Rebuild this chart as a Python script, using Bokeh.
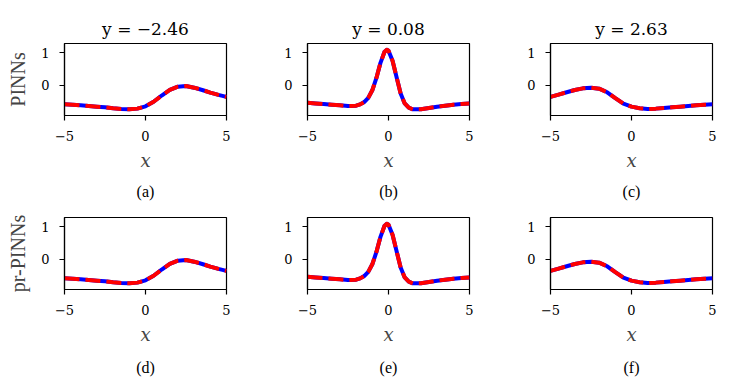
from bokeh.plotting import figure
from bokeh.layouts import column, row
from bokeh.models import Range1d, FixedTicker, Title
from bokeh.embed import file_html
from bokeh.resources import INLINE

# ---- data ----
titles = ["y = −2.46", "y = 0.08", "y = 2.63"]
row_labels = ["PINNs", "pr-PINNs"]
captions = [["(a)", "(b)", "(c)"], ["(d)", "(e)", "(f)"]]

x_a = [-5, -4.5, -4, -3.5, -3, -2.5, -2, -1.5, -1, -0.5, 0, 0.5, 1, 1.5, 2, 2.5, 3, 3.5, 4, 4.5, 5]
u_a = [-0.58, -0.59, -0.61, -0.63, -0.65, -0.67, -0.70, -0.72, -0.73, -0.71, -0.64, -0.50, -0.31,
       -0.14, -0.04, -0.02, -0.07, -0.14, -0.22, -0.29, -0.35]

x_b = [-5, -4.5, -4, -3.5, -3, -2.5, -2, -1.75, -1.5, -1.25, -1, -0.75, -0.5, -0.25, -0.1, 0,
       0.25, 0.5, 0.75, 1, 1.25, 1.5, 2, 2.5, 3, 3.5, 4, 4.5, 5]
u_b = [-0.53, -0.55, -0.57, -0.59, -0.61, -0.63, -0.62, -0.58, -0.51, -0.38, -0.15, 0.22, 0.68,
       1.02, 1.09, 1.06, 0.75, 0.25, -0.25, -0.55, -0.68, -0.73, -0.73, -0.69, -0.65, -0.62,
       -0.59, -0.57, -0.55]

x_c = [-5, -4.5, -4, -3.5, -3, -2.5, -2, -1.5, -1, -0.5, 0, 0.5, 1, 1.5, 2, 2.5, 3, 3.5, 4, 4.5, 5]
u_c = [-0.35, -0.28, -0.21, -0.14, -0.09, -0.07, -0.10, -0.21, -0.39, -0.56, -0.65, -0.70, -0.72,
       -0.71, -0.69, -0.67, -0.65, -0.63, -0.61, -0.59, -0.58]

xs = [x_a, x_b, x_c]
exact = [u_a, u_b, u_c]
pinn_pred = [u_a, u_b, u_c]
prpinn_pred = [u_a, u_b, u_c]
preds = [pinn_pred, prpinn_pred]

x_ticks = [-5, 0, 5]
x_tick_labels = {-5: "−5", 0: "0", 5: "5"}
y_ticks = [0, 1]

MATH = "DejaVu Serif"
TEXT = "Liberation Serif"


def make_panel(r, c):
    top = 43 if r == 0 else 10
    bottom = 87 if r == 0 else 97
    p = figure(frame_width=162, frame_height=72,
               x_range=Range1d(-5, 5), y_range=Range1d(-0.92, 1.28),
               output_backend="svg", toolbar_location=None,
               min_border_left=64, min_border_right=17,
               min_border_top=top, min_border_bottom=bottom,
               background_fill_color="white", border_fill_color="white")
    p.grid.visible = False
    p.outline_line_color = "black"
    p.outline_line_width = 1.2
    for ax in (p.xaxis[0], p.yaxis[0]):
        ax.axis_line_color = "black"
        ax.axis_line_width = 1.2
        ax.major_tick_line_color = "black"
        ax.major_tick_line_width = 1.2
        ax.major_tick_out = 5
        ax.major_tick_in = 0
        ax.minor_tick_line_color = None
        ax.major_label_text_font = MATH
        ax.major_label_text_font_size = "13px"
        ax.major_label_text_color = "black"
    p.xaxis.ticker = FixedTicker(ticks=x_ticks)
    p.xaxis.major_label_overrides = x_tick_labels
    p.xaxis.major_label_standoff = 10
    p.xaxis.axis_label = "x"
    p.xaxis.axis_label_text_font = MATH
    p.xaxis.axis_label_text_font_style = "italic"
    p.xaxis.axis_label_text_font_size = "18px"
    p.xaxis.axis_label_standoff = 6
    p.yaxis.ticker = FixedTicker(ticks=y_ticks)
    p.yaxis.major_label_standoff = 10
    if c == 0:
        p.yaxis.axis_label = row_labels[r]
        p.yaxis.axis_label_text_font = TEXT
        p.yaxis.axis_label_text_font_style = "normal"
        p.yaxis.axis_label_text_font_size = "20px"
        p.yaxis.axis_label_standoff = 9
    if r == 0:
        p.title.text = titles[c]
        p.title.align = "center"
        p.title.text_font = MATH
        p.title.text_font_style = "normal"
        p.title.text_font_size = "17px"
        p.title.text_color = "black"
        p.title.standoff = 10
    cap = Title(text=captions[r][c], align="center", text_font=TEXT,
                text_font_style="normal", text_font_size="16px", text_color="black",
                standoff=15 if r == 0 else 18)
    p.add_layout(cap, "below")

    p.line(xs[c], exact[c], line_color="#0000ff", line_width=4, line_join="round")
    p.line(xs[c], preds[r][c], line_color="#ff0000", line_width=4, line_dash="15 6",
           line_cap="butt", line_join="round")
    return p


rows = [row(*[make_panel(r, c) for c in range(3)]) for r in range(2)]
layout = column(*rows)

open("out.html", "w").write(file_html(layout, INLINE))
